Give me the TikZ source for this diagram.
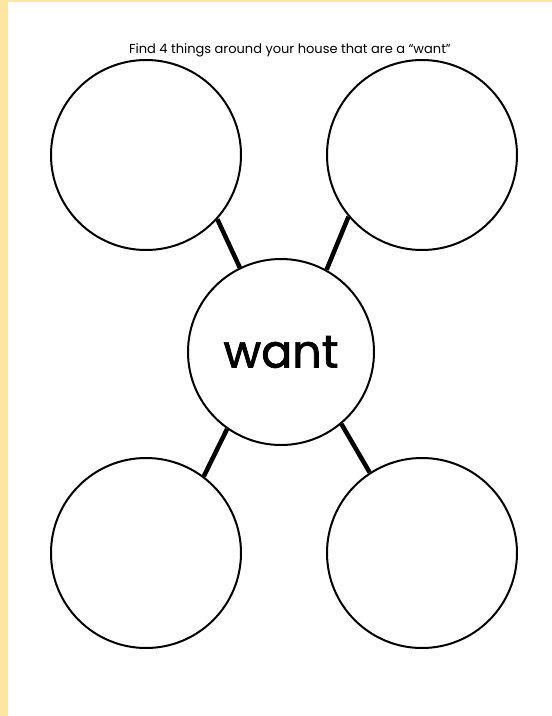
\documentclass[tikz,border=0pt]{standalone}
\usepackage{fontspec}
\setmainfont{Poppins}
\newfontfamily\wantfont{Poppins}[FakeBold=1.6]
\definecolor{bandyellow}{HTML}{FDE5A2}
\begin{document}
\begin{tikzpicture}[x=1pt,y=-1pt,
  bubble/.style={circle,draw=black,line width=2pt,fill=white,inner sep=0pt},
  link/.style={line width=4.5pt,black}]
\useasboundingbox (0,0) rectangle (552,716);
\fill[white] (0,0) rectangle (552,716);
\fill[bandyellow] (0,0) rectangle (8,716);
\fill[bandyellow] (0,0) rectangle (552,1.5);
\node[font=\fontsize{13}{15}\selectfont] (title) at (290,50) {Find 4 things around your house that are a “want”};
\node[bubble,minimum size=190pt] (tl) at (146,155) {};
\node[bubble,minimum size=190pt] (tr) at (422,155) {};
\node[bubble,minimum size=186pt,font=\wantfont\fontsize{46}{52}\selectfont] (c) at (281,352) {want};
\node[bubble,minimum size=190pt] (bl) at (146,553) {};
\node[bubble,minimum size=190pt] (br) at (422,553) {};
\draw[link] (tl.-42) -- (c.116);
\draw[link] (tr.220) -- (c.61);
\draw[link] (bl.53) -- (c.235);
\draw[link] (br.123) -- (c.-50);
\end{tikzpicture}
\end{document}
